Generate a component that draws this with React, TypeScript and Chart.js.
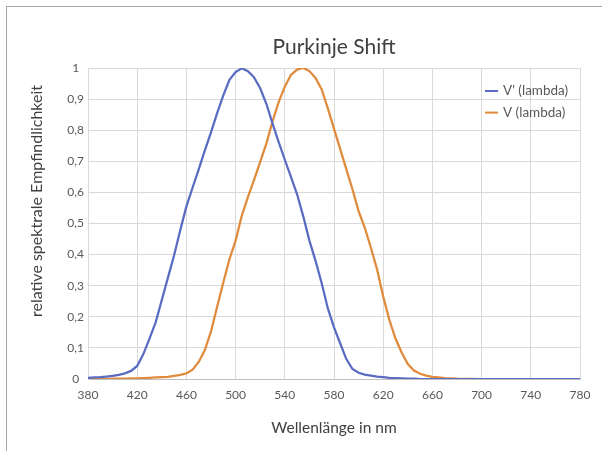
import React, { useEffect, useRef } from "react";
import { Chart, registerables } from "chart.js";

Chart.register(...registerables);

// Wavelength sampling in nm (shared by both curves)
const wavelengths = [
  380, 385, 390, 395, 400, 405, 410, 415, 420, 425, 430, 435, 440, 445, 450, 455,
  460, 465, 470, 475, 480, 485, 490, 495, 500, 505, 510, 515, 520, 525, 530, 535,
  540, 545, 550, 555, 560, 565, 570, 575, 580, 585, 590, 595, 600, 605, 610, 615,
  620, 625, 630, 635, 640, 645, 650, 655, 660, 665, 670, 680, 700, 740, 780,
];

// Scotopic sensitivity V'(lambda)
const scotopic = [
  0.004, 0.005, 0.006, 0.008, 0.01, 0.013, 0.018, 0.026, 0.042, 0.08, 0.13, 0.182,
  0.254, 0.326, 0.398, 0.478, 0.555, 0.615, 0.674, 0.735, 0.793, 0.855, 0.912, 0.962,
  0.987, 0.999, 0.99, 0.97, 0.935, 0.885, 0.822, 0.762, 0.705, 0.65, 0.594, 0.523,
  0.445, 0.38, 0.308, 0.227, 0.166, 0.115, 0.064, 0.032, 0.02, 0.014, 0.011, 0.008,
  0.006, 0.004, 0.003, 0.002, 0.001, 0.001, 0, 0, 0, 0, 0, 0, 0, 0, 0,
];

// Photopic sensitivity V(lambda)
const photopic = [
  0, 0, 0, 0, 0.001, 0.001, 0.001, 0.002, 0.002, 0.003, 0.004, 0.005, 0.006, 0.007,
  0.01, 0.013, 0.018, 0.03, 0.055, 0.093, 0.153, 0.232, 0.31, 0.385, 0.445, 0.525,
  0.585, 0.64, 0.698, 0.757, 0.828, 0.89, 0.94, 0.978, 0.995, 1.0, 0.99, 0.968, 0.931,
  0.87, 0.805, 0.74, 0.675, 0.61, 0.54, 0.487, 0.422, 0.353, 0.265, 0.19, 0.13, 0.085,
  0.048, 0.027, 0.017, 0.011, 0.007, 0.005, 0.003, 0.001, 0, 0, 0,
];

const seriesLabels = ["V' (lambda)", "V (lambda)"];
const seriesColors = ["#5a6bc2", "#e08a3b"];

const xTickValues = [380, 420, 460, 500, 540, 580, 620, 660, 700, 740, 780];
const yTickValues = [0, 0.1, 0.2, 0.3, 0.4, 0.5, 0.6, 0.7, 0.8, 0.9, 1];
const yTickLabels = ["0", "0,1", "0,2", "0,3", "0,4", "0,5", "0,6", "0,7", "0,8", "0,9", "1"];

const chartTitle = "Purkinje Shift";
const xAxisTitle = "Wellenlänge in nm";
const yAxisTitle = "relative spektrale Empfindlichkeit";

const FONT = "Lato, 'Open Sans', sans-serif";
const TEXT_DARK = "#404040";
const TEXT_TICK = "#595959";

// Draws the chart title, the axis titles and the legend box inside the plot.
const annotationsPlugin = {
  id: "annotations",
  afterDraw(chart: any) {
    const { ctx, chartArea } = chart;
    const cx = (chartArea.left + chartArea.right) / 2;
    ctx.save();
    ctx.fillStyle = TEXT_DARK;
    ctx.textAlign = "center";
    ctx.textBaseline = "middle";

    ctx.font = `21px ${FONT}`;
    ctx.fillText(chartTitle, cx, 47);

    ctx.font = `15.5px ${FONT}`;
    ctx.fillText(xAxisTitle, cx, 428);

    ctx.save();
    ctx.translate(37, 201);
    ctx.rotate(-Math.PI / 2);
    ctx.font = `16px ${FONT}`;
    ctx.fillText(yAxisTitle, 0, 0);
    ctx.restore();

    // legend
    ctx.font = `13.5px ${FONT}`;
    ctx.textAlign = "left";
    chart.data.datasets.forEach((ds: any, i: number) => {
      const y = 91 + i * 21.6;
      ctx.strokeStyle = ds.borderColor;
      ctx.lineWidth = 2;
      ctx.beginPath();
      ctx.moveTo(485, y);
      ctx.lineTo(498, y);
      ctx.stroke();
      ctx.fillStyle = TEXT_TICK;
      ctx.fillText(ds.label, 503, y);
    });
    ctx.restore();
  },
};

export default function App() {
  const canvasRef = useRef<HTMLCanvasElement | null>(null);

  useEffect(() => {
    const canvas = canvasRef.current;
    if (!canvas) return;
    const series = [scotopic, photopic];
    const chart = new Chart(canvas, {
      type: "line",
      data: {
        datasets: series.map((vals, i) => ({
          label: seriesLabels[i],
          data: wavelengths.map((w, j) => ({ x: w, y: vals[j] })),
          borderColor: seriesColors[i],
          backgroundColor: seriesColors[i],
          borderWidth: 2.25,
          pointRadius: 0,
          tension: 0,
          fill: false,
        })),
      },
      options: {
        responsive: false,
        animation: false,
        events: [],
        layout: { padding: { left: 0, top: 68, right: 22, bottom: 0 } },
        plugins: {
          legend: { display: false },
          title: { display: false },
          tooltip: { enabled: false },
        },
        scales: {
          x: {
            type: "linear",
            min: 380,
            max: 780,
            afterBuildTicks: (s: any) => {
              s.ticks = xTickValues.map((v) => ({ value: v }));
            },
            afterFit: (s: any) => {
              s.height = 72;
            },
            grid: { color: "#d9d9d9", lineWidth: 1, drawTicks: false },
            border: { color: "#bfbfbf", width: 1 },
            ticks: {
              padding: 9,
              maxRotation: 0,
              autoSkip: false,
              color: TEXT_TICK,
              font: { family: FONT, size: 12 },
              callback: (v: any) => String(v),
            },
          },
          y: {
            type: "linear",
            min: 0,
            max: 1,
            afterBuildTicks: (s: any) => {
              s.ticks = yTickValues.map((v) => ({ value: v }));
            },
            afterFit: (s: any) => {
              s.width = 88;
            },
            grid: { color: "#d9d9d9", lineWidth: 1, drawTicks: false },
            border: { color: "#d9d9d9", width: 1 },
            ticks: {
              padding: 4,
              crossAlign: "center",
              autoSkip: false,
              color: TEXT_TICK,
              font: { family: FONT, size: 12 },
              callback: (v: any) => {
                const idx = yTickValues.findIndex((t) => Math.abs(t - v) < 1e-9);
                return idx >= 0 ? yTickLabels[idx] : "";
              },
            },
          },
        },
      },
      plugins: [annotationsPlugin],
    } as any);
    return () => chart.destroy();
  }, []);

  return (
    <div
      style={{
        position: "absolute",
        left: 0,
        top: 0,
        width: 602,
        height: 451,
        overflow: "hidden",
        background: "#ffffff",
      }}
    >
      <div
        style={{
          position: "absolute",
          left: 6,
          top: 6,
          width: 640,
          height: 480,
          border: "1px solid #a6a6a6",
        }}
      />
      <canvas
        ref={canvasRef}
        width={602}
        height={451}
        style={{ position: "absolute", left: 0, top: 0, width: 602, height: 451 }}
      />
    </div>
  );
}
